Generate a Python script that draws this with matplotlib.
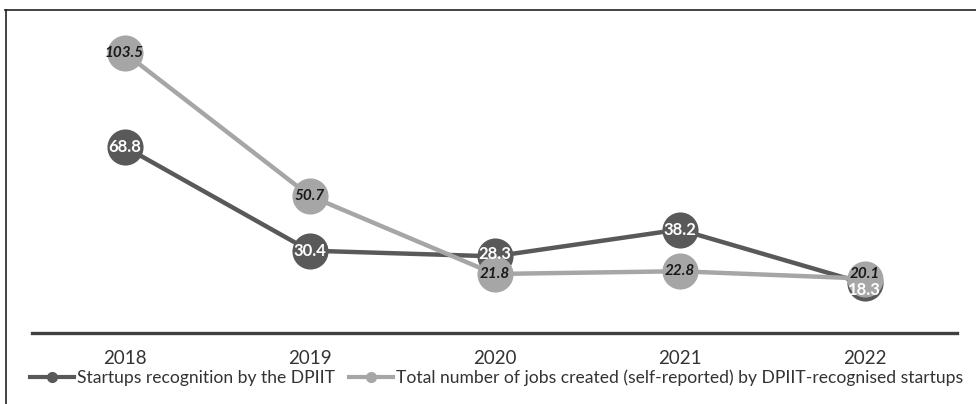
import matplotlib
matplotlib.use('Agg')
import matplotlib.pyplot as plt
from matplotlib.lines import Line2D

plt.rcParams['font.family'] = ['Lato', 'DejaVu Sans']

# data
years = ['2018', '2019', '2020', '2021', '2022']
recognition = [68.8, 30.4, 28.3, 38.2, 18.3]
jobs = [103.5, 50.7, 21.8, 22.8, 20.1]
names = ['Startups recognition by the DPIIT',
         'Total number of jobs created (self-reported) by DPIIT-recognised startups']

dark = '#595959'
light = '#a6a6a6'

fig = plt.figure(figsize=(9.76, 4.04), dpi=100)
ax = fig.add_axes([32 / 976, 1 - 333 / 404, 925 / 976, 325 / 404])

x = range(len(years))
ax.plot(x, recognition, color=dark, lw=3.2, marker='o', ms=26,
        mfc=dark, mec='none', zorder=2, solid_capstyle='butt')
ax.plot(x, jobs, color=light, lw=3.2, marker='o', ms=26,
        mfc=light, mec='none', zorder=3, solid_capstyle='butt')

# value labels on top of the markers; the last pair sits close, nudge them apart
dy_dark = [0, 0, 2, 0, -5]
dy_light = [0, 0, 0, 0, 3]
for i, v in enumerate(recognition):
    ax.annotate(f'{v:.1f}', (i, v), xytext=(0, dy_dark[i]), textcoords='offset points',
                ha='center', va='center', color='white',
                fontsize=12, fontweight='bold', zorder=5)
for i, v in enumerate(jobs):
    ax.annotate(f'{v:.1f}', (i, v), xytext=(0, dy_light[i]), textcoords='offset points',
                ha='center', va='center', color='#1a1a1a',
                fontsize=11, fontweight='bold', fontstyle='italic', zorder=5)

ax.set_xlim(-0.5, len(years) - 0.5)
ax.set_ylim(0, 120)
ax.set_xticks(list(x))
ax.set_xticklabels(years)
ax.tick_params(axis='x', length=0, pad=12, labelsize=13.5, labelcolor='#333333')
ax.set_yticks([])
for s in ['top', 'left', 'right']:
    ax.spines[s].set_visible(False)
ax.spines['bottom'].set_color('#404040')
ax.spines['bottom'].set_linewidth(2.4)
ax.patch.set_alpha(0)

# legend below the axis
handles = [Line2D([], [], color=dark, lw=3, marker='o', ms=7),
           Line2D([], [], color=light, lw=3, marker='o', ms=7)]
fig.legend(handles, names, loc='center left', bbox_to_anchor=(30 / 976, 1 - 378 / 404),
           ncol=2, frameon=False, fontsize=12.6, handlelength=2.5,
           handletextpad=0.2, columnspacing=0.8, borderaxespad=0,
           borderpad=0, labelcolor='#333333')

# outer frame (top and left edges)
fig.add_artist(Line2D([5 / 976, 1], [1 - 10 / 404, 1 - 10 / 404], color='#222222', lw=1.2))
fig.add_artist(Line2D([6 / 976, 6 / 976], [0, 1 - 10 / 404], color='#222222', lw=1.2))

fig.savefig('out.png', dpi=100)
